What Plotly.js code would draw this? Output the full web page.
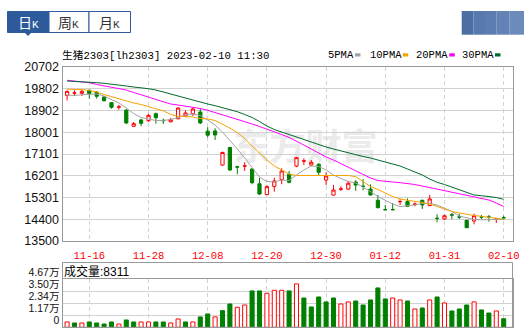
<!DOCTYPE html>
<html><head><meta charset="utf-8">
<script src="https://cdn.plot.ly/plotly-3.0.1.min.js"></script>
<style>html,body{margin:0;padding:0;background:#fff;overflow:hidden}#chart{width:524px;height:332px}</style>
</head><body><div id="chart"></div>
<script>
// ---------- data ----------
const dates = ['2022-11-11','2022-11-14','2022-11-15','2022-11-16','2022-11-17','2022-11-18','2022-11-21','2022-11-22','2022-11-23','2022-11-24',
 '2022-11-25','2022-11-28','2022-11-29','2022-11-30','2022-12-01','2022-12-02','2022-12-05','2022-12-06','2022-12-07','2022-12-08',
 '2022-12-09','2022-12-12','2022-12-13','2022-12-14','2022-12-15','2022-12-16','2022-12-19','2022-12-20','2022-12-21','2022-12-22',
 '2022-12-23','2022-12-26','2022-12-27','2022-12-28','2022-12-29','2022-12-30','2023-01-03','2023-01-04','2023-01-05','2023-01-06',
 '2023-01-09','2023-01-10','2023-01-11','2023-01-12','2023-01-13','2023-01-16','2023-01-17','2023-01-18','2023-01-19','2023-01-20',
 '2023-01-30','2023-01-31','2023-02-01','2023-02-02','2023-02-03','2023-02-06','2023-02-07','2023-02-08','2023-02-09','2023-02-10'];
const openP = [19530,19620,19615,19740,19665,19460,19225,19040,18920,18245,18510,18480,18770,18495,18430,18560,18675,18770,18840,18045,
 18055,16645,17370,16570,16600,16480,15870,15420,15760,16040,16260,16600,16805,16645,16675,16025,15400,15645,15650,15940,
 15770,15650,15185,14800,14800,15125,15130,15015,15185,14965,14440,14410,14580,14495,14355,14330,14495,14495,14405,14470];
const highP = [19730,19740,19760,19760,19695,19500,19255,19140,18950,18425,18560,18770,18815,18565,18595,19035,18910,19045,18975,18210,
 18165,17200,17400,16615,16760,16510,16115,15820,16120,16510,16400,16980,16925,16855,16715,16340,15820,15765,15985,16020,
 16070,15845,15405,14990,15075,15240,15265,15100,15210,15405,14605,14595,14660,14630,14380,14630,14575,14575,14460,14550];
const lowP = [19315,19500,19500,19390,19390,19280,18975,18935,18345,18245,18255,18425,18355,18345,18425,18535,18630,18675,18345,17785,
 17680,16615,16400,16260,16400,15850,15405,15400,15540,15850,15885,16555,16650,16605,16230,15820,15380,15570,15610,15580,
 15600,15380,14855,14770,14770,14990,14905,14935,14825,14940,14275,14370,14410,14410,14050,14190,14410,14300,14245,14380];
const closeP = [19695,19630,19695,19600,19490,19305,19035,19050,18385,18355,18370,18700,18605,18480,18515,19005,18800,18965,18385,17880,
 17890,17165,16440,16560,16610,15915,15445,15750,15985,16400,15930,16950,16815,16760,16345,16190,15610,15655,15890,15815,
 15760,15405,14880,14795,14795,15135,14935,15025,14990,15240,14435,14545,14575,14490,14050,14550,14490,14490,14415,14460];
const ma5 = [19543,19522,19555,19584,19584,19502,19357,19212,19005,18777,18612,18550,18488,18488,18529,18612,18736,18757,18694,18508,
 18301,18012,17680,17308,16935,16521,16149,15963,15942,16025,16004,16232,16439,16604,16584,16439,16232,16087,15963,15901,
 15735,15549,15342,15197,15031,14928,14949,14990,15052,15052,14990,14866,14721,14535,14452,14390,14377,14377,14390,14398];
const ma10 = [19779,19779,19771,19729,19667,19564,19469,19377,19303,19212,19150,19046,18972,18889,18736,18661,18645,18632,18570,18550,
 18488,18343,18177,17991,17743,17432,17121,16853,16604,16439,16273,16211,16211,16232,16232,16232,16240,16232,16211,16161,
 15963,15756,15631,15487,15342,15238,15197,15135,15093,15031,14928,14804,14721,14659,14597,14555,14522,14481,14452,14398];
const ma20 = [20151,20122,20093,20052,19978,19915,19853,19812,19750,19646,19564,19460,19357,19274,19170,19129,19088,19046,18984,18910,
 18818,18736,18632,18529,18446,18343,18239,18136,18012,17908,17784,17639,17473,17308,17142,16977,16853,16708,16563,16397,
 16252,16108,16004,15963,15942,15913,15888,15838,15776,15714,15631,15570,15507,15445,15383,15334,15280,15197,15073,14928];
const ma30 = [20122,20110,20093,20081,20052,20027,19998,19957,19915,19874,19845,19804,19750,19667,19564,19481,19398,19315,19241,19170,
 19100,19026,18943,18852,18736,18612,18446,18260,18115,18012,17908,17792,17693,17577,17473,17391,17308,17225,17142,17060,
 16998,16935,16853,16791,16708,16604,16480,16356,16232,16066,15930,15838,15735,15631,15507,15404,15375,15350,15300,15226];
const volume = [5200,4200,4200,5200,4200,3200,5200,3200,7100,5200,5200,5200,5200,5200,4200,8100,5200,5200,10100,13000,
 10100,16200,22700,19500,21700,35400,35400,33100,36000,36000,35400,42200,28500,19800,29500,24700,28500,22700,24700,25600,
 21700,26600,38300,27600,28500,26600,25600,17800,18800,26600,29500,23700,15900,17800,21700,24700,16900,13900,15900,8311];
const volUp = [1,0,1,0,0,0,0,1,0,0,1,1,0,0,1,1,0,1,0,0,
 1,0,0,1,1,0,0,1,1,1,0,1,0,0,0,0,0,1,1,0,
 0,0,0,0,1,1,0,1,0,1,0,1,0,0,0,1,0,0,1,0];
const tickDates = ['2022-11-16','2022-11-28','2022-12-08','2022-12-20','2022-12-30','2023-01-12','2023-01-31','2023-02-10'];
const tickText = ['11-16','11-28','12-08','12-20','12-30','01-12','01-31','02-10'];
const priceTicks = [13500,14400.25,15300.5,16200.75,17101,18001.25,18901.5,19801.75,20702];
const priceTickText = ['13500','14400','15301','16201','17101','18001','18902','19802','20702'];
const volTicks = [0,11675,23350,35025,46700];
const volTickText = ['0','1.17万','2.34万','3.50万','4.67万'];
const maNames = ['5PMA','10PMA','20PMA','30PMA'];
const maColors = ['#a3a3a3','#f5a300','#ff00ff','#00692c'];
const titleText = '生猪2303[lh2303] 2023-02-10 11:30';
const tabNames = ['日','周','月'];

// ---------- layout helpers ----------
const W = 524, H = 332;
const px = x => x / W, py = y => 1 - y / H;
const RED = '#ff0000', GREEN = '#008000', BLUE = '#2d5a9b';
const xDom = [px(62.5), px(512.5)];
const xRange = [-0.62, 60.19];

const traces = [];
traces.push({
  type: 'candlestick', x: dates, open: openP, high: highP, low: lowP, close: closeP,
  xaxis: 'x', yaxis: 'y', whiskerwidth: 0, hoverinfo: 'skip',
  increasing: {line: {color: RED, width: 1}, fillcolor: '#ffffff'},
  decreasing: {line: {color: GREEN, width: 1}, fillcolor: GREEN}
});
[ma5, ma10, ma20, ma30].forEach((m, i) => traces.push({
  type: 'scatter', mode: 'lines', x: dates, y: m, xaxis: 'x', yaxis: 'y',
  line: {color: maColors[i], width: 1}, hoverinfo: 'skip'
}));
traces.push({
  type: 'bar', x: dates, y: volume, xaxis: 'x2', yaxis: 'y2', width: 0.55,
  marker: {color: volUp.map(u => u ? '#ffffff' : GREEN), line: {color: volUp.map(u => u ? RED : GREEN), width: 1}},
  hoverinfo: 'skip'
});

const gridC = '#d2d2d2', frameC = '#999999';
const shapes = [
  {type:'rect', xref:'paper', yref:'paper', x0:px(7.5), x1:px(49), y0:py(32.5), y1:py(11.5), fillcolor:BLUE, line:{color:BLUE,width:1}},
  {type:'rect', xref:'paper', yref:'paper', x0:px(49), x1:px(89), y0:py(32.5), y1:py(11.5), fillcolor:'#fff', line:{color:BLUE,width:1}},
  {type:'rect', xref:'paper', yref:'paper', x0:px(89), x1:px(130.5), y0:py(32.5), y1:py(11.5), fillcolor:'#fff', line:{color:BLUE,width:1}},
  {type:'path', xref:'paper', yref:'paper', path:`M ${px(24.5)} ${py(32.5)} L ${px(31.5)} ${py(32.5)} L ${px(28)} ${py(36)} Z`, fillcolor:BLUE, line:{width:0}},
  // right header block
  {type:'rect', xref:'paper', yref:'paper', x0:px(461.7), x1:px(473.3), y0:py(34.7), y1:py(11), fillcolor:'#4b6ea4', line:{width:0}},
  {type:'rect', xref:'paper', yref:'paper', x0:px(473.3), x1:px(485), y0:py(34.7), y1:py(11), fillcolor:'#5879ae', line:{width:0}},
  {type:'rect', xref:'paper', yref:'paper', x0:px(485), x1:px(496.7), y0:py(34.7), y1:py(11), fillcolor:'#5d7db1', line:{width:0}},
  {type:'rect', xref:'paper', yref:'paper', x0:px(496.7), x1:px(509.3), y0:py(34.7), y1:py(11), fillcolor:'#6383b6', line:{width:0}},
  {type:'rect', xref:'paper', yref:'paper', x0:px(509.3), x1:px(524), y0:py(34.7), y1:py(11), fillcolor:'#6c8abb', line:{width:0}},
  // volume panel frame
  {type:'rect', xref:'paper', yref:'paper', x0:px(62.5), x1:px(512.5), y0:py(327.3), y1:py(262.5), fillcolor:'rgba(0,0,0,0)', line:{color:frameC,width:1}},
  // watermark
  {type:'rect', xref:'x domain', yref:'y domain', x0:0.28, x1:0.80, y0:0.42, y1:0.63, layer:'below', fillcolor:'rgba(0,0,0,0)', line:{width:0},
   label:{text:'东方财富', textposition:'middle center', font:{family:'Noto Sans CJK SC', size:36, color:'#ebebeb', weight:'bold'}}}
];
const legX = [328, 370, 416, 461.7], legSq = [355, 402.7, 449.3, 495];
maNames.forEach((n, i) => shapes.push({type:'rect', xref:'paper', yref:'paper', x0:px(legSq[i]), x1:px(legSq[i]+5.5), y0:py(56.5), y1:py(53.3), fillcolor:maColors[i], line:{width:0}}));

const monoF = 'Liberation Mono, Noto Sans CJK SC';
const sansF = 'Liberation Sans, Noto Sans CJK SC';
const annotations = [
  {xref:'paper', yref:'paper', x:px(60), y:py(55), xanchor:'left', yanchor:'middle', showarrow:false, text:titleText, font:{family:monoF, size:10.7, color:'#000'}},
  {xref:'paper', yref:'paper', x:px(61.5), y:py(271), xanchor:'left', yanchor:'middle', showarrow:false, text:'成交量:' + volume[volume.length-1], font:{family:sansF, size:12, color:'#000'}}
];
maNames.forEach((n, i) => annotations.push({xref:'paper', yref:'paper', x:px(legX[i]-2), y:py(55), xanchor:'left', yanchor:'middle', showarrow:false, text:n, font:{family:monoF, size:10.5, color:'#000'}}));
const tabCx = [28, 68.5, 109.5];
tabNames.forEach((t, i) => annotations.push({xref:'paper', yref:'paper', x:px(tabCx[i]), y:py(22), xanchor:'center', yanchor:'middle', showarrow:false,
  text: t + '<span style="font-family:Liberation Mono;font-size:11px">K</span>', font:{family:'Noto Sans CJK SC', size:14, color: i === 0 ? '#ffffff' : '#333333'}}));

const layout = {
  width: W, height: H, margin: {l:0, r:0, t:0, b:0},
  paper_bgcolor: '#ffffff', plot_bgcolor: 'rgba(0,0,0,0)', showlegend: false,
  font: {family: sansF, size: 12, color: '#000'},
  boxgap: 0.38, dragmode: false, hovermode: false,
  xaxis: {type:'category', domain:xDom, range:xRange, anchor:'y', rangeslider:{visible:false},
    tickmode:'array', tickvals:tickDates, ticktext:tickText, ticks:'', ticklabelstandoff:4,
    showgrid:true, gridcolor:gridC, griddash:'4px,3px', gridwidth:1,
    showline:true, mirror:true, linecolor:frameC, linewidth:1, zeroline:false,
    tickfont:{family:monoF, size:10.5, color:RED}, fixedrange:true},
  yaxis: {domain:[py(241), py(67)], range:[13500, 20702], anchor:'x',
    tickmode:'array', tickvals:priceTicks, ticktext:priceTickText, ticks:'',
    showgrid:true, gridcolor:gridC, gridwidth:1, showline:true, mirror:true, linecolor:frameC, linewidth:1, zeroline:false,
    tickfont:{family:sansF, size:12.5, color:'#111'}, fixedrange:true},
  xaxis2: {type:'category', domain:xDom, range:xRange, anchor:'y2',
    tickmode:'array', tickvals:tickDates, ticktext:tickText, showticklabels:false, ticks:'',
    showgrid:true, gridcolor:gridC, griddash:'4px,3px', gridwidth:1,
    showline:true, mirror:true, linecolor:frameC, linewidth:1, zeroline:false, fixedrange:true},
  yaxis2: {domain:[py(327.3), py(279.3)], range:[0, 46700], anchor:'x2',
    tickmode:'array', tickvals:volTicks, ticktext:volTickText, ticks:'', ticklabelposition:'outside top',
    showgrid:true, gridcolor:gridC, gridwidth:1, showline:true, mirror:true, linecolor:frameC, linewidth:1, zeroline:false,
    tickfont:{family:sansF, size:10.5, color:'#111'}, fixedrange:true},
  shapes: shapes, annotations: annotations
};
Plotly.newPlot('chart', traces, layout, {staticPlot:true, displayModeBar:false});
</script></body></html>
